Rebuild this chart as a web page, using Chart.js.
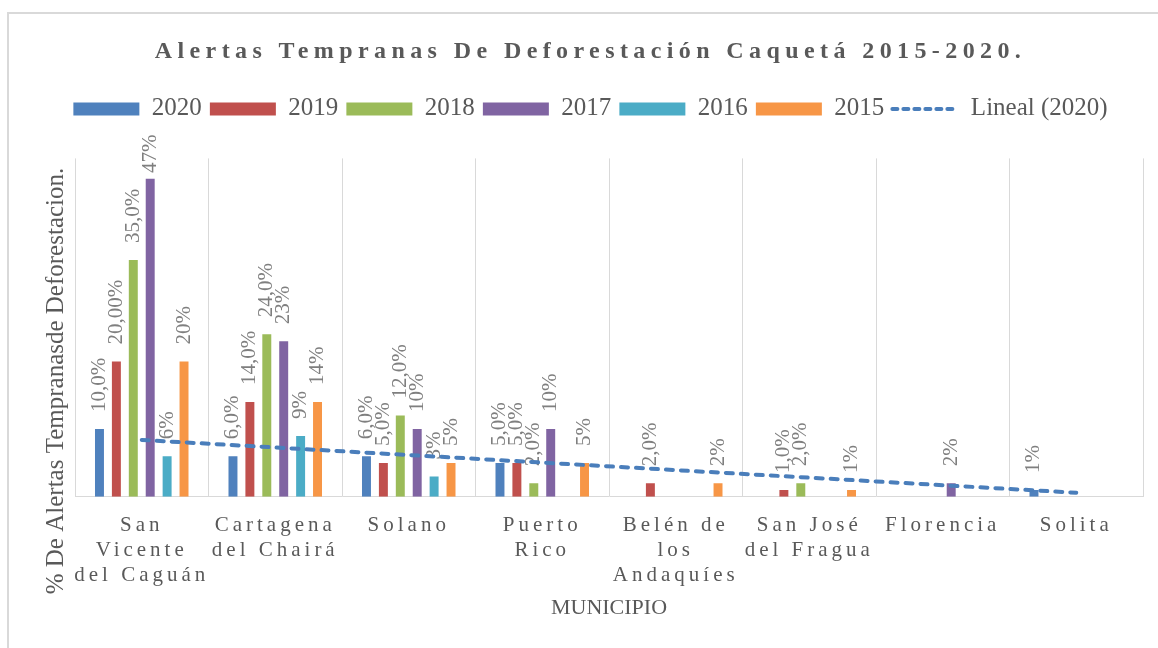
<!DOCTYPE html>
<html>
<head>
<meta charset="utf-8">
<script src="https://cdn.jsdelivr.net/npm/chart.js@4.4.1/dist/chart.umd.min.js"></script>
<style>
html,body{margin:0;padding:0;background:#ffffff;}
#wrap{position:relative;width:1158px;height:648px;overflow:hidden;background:#ffffff;}
#frame{position:absolute;left:7px;top:12px;width:1200px;height:700px;border-top:2px solid #d9d9d9;border-left:2px solid #d9d9d9;}
canvas{position:absolute;left:0;top:0;}
</style>
</head>
<body>
<div id="wrap"><div id="frame"></div><canvas id="c" width="1158" height="648"></canvas></div>
<script>
// ---- data ----
const categories = [
  ["San", "Vicente", "del Caguán"],
  ["Cartagena", "del Chairá"],
  "Solano",
  ["Puerto", "Rico"],
  ["Belén de", "los", "Andaquíes"],
  ["San José", "del Fragua"],
  "Florencia",
  "Solita"
];
const seriesNames = ["2020", "2019", "2018", "2017", "2016", "2015"];
const v2020 = [10, 6, 6, 5, null, null, null, 1];
const v2019 = [20, 14, 5, 5, 2, 1, null, null];
const v2018 = [35, 24, 12, 2, null, 2, null, null];
const v2017 = [47, 23, 10, 10, null, null, 2, null];
const v2016 = [6, 9, 3, null, null, null, null, null];
const v2015 = [20, 14, 5, 5, 2, 1, null, null];
const l2020 = ["10,0%", "6,0%", "6,0%", "5,0%", null, null, null, "1%"];
const l2019 = ["20,00%", "14,0%", "5,0%", "5,0%", "2,0%", "1,0%", null, null];
const l2018 = ["35,0%", "24,0%", "12,0%", "2,0%", null, "2,0%", null, null];
const l2017 = ["47%", "23%", "10%", "10%", null, null, "2%", null];
const l2016 = ["6%", "9%", "3%", null, null, null, null, null];
const l2015 = ["20%", "14%", "5%", "5%", "2%", "1%", null, null];
// linear trendline of 2020, read at its two ends
const trend2020 = [8.4, null, null, null, null, null, null, 0.6];
const trendName = "Lineal (2020)";
const chartTitle = "Alertas Tempranas De Deforestación Caquetá 2015-2020.";
const xTitle = "MUNICIPIO";
const yTitle = "% De Alertas Tempranasde Deforestacion.";
const yMin = 0, yMax = 50;

const colors = ["#4F81BD", "#C0504D", "#9BBB59", "#8064A2", "#4BACC6", "#F79646"];
const FONT = '"Liberation Serif", "Times New Roman", serif';
const GRAY = "#595959";

// ---- small rendering helpers (letter spacing, legend gap) ----
function withSpacing(proto, method, px) {
  if (!proto || !proto[method]) return;
  const orig = proto[method];
  proto[method] = function (...args) {
    const ctx = this.ctx;
    const prev = ctx.letterSpacing;
    ctx.letterSpacing = px + "px";
    try { return orig.apply(this, args); }
    finally { ctx.letterSpacing = prev || "0px"; }
  };
}
withSpacing(Chart.CategoryScale.prototype, "drawLabels", 4);
withSpacing(Chart.Title && Chart.Title._element && Chart.Title._element.prototype, "draw", 5.4);

const LEGEND_GAP = 27;
const LegendEl = Chart.Legend && Chart.Legend._element;
if (LegendEl) {
  const fitOrig = LegendEl.prototype.fit;
  LegendEl.prototype.fit = function () {
    fitOrig.call(this);
    if (this.isHorizontal()) this.height += LEGEND_GAP;
  };
}

const barValues = [v2020, v2019, v2018, v2017, v2016, v2015];
const barLabels = [l2020, l2019, l2018, l2017, l2016, l2015];

const datasets = seriesNames.map((name, i) => ({
  type: "bar",
  label: name,
  data: barValues[i],
  valueLabels: barLabels[i],
  backgroundColor: colors[i],
  borderWidth: 0,
  categoryPercentage: 0.76,
  barPercentage: 0.53,
  order: 1
}));
datasets.push({
  type: "line",
  label: trendName,
  data: trend2020,
  spanGaps: true,
  borderColor: "#4A7EBB",
  backgroundColor: "rgba(0,0,0,0)",
  borderWidth: 4,
  borderDash: [7, 8],
  borderCapStyle: "round",
  pointRadius: 0,
  order: 0
});
const TREND_INDEX = datasets.length - 1;

function drawValueLabels(chart) {
  const ctx = chart.ctx;
  ctx.save();
  ctx.font = "21px " + FONT;
  ctx.fillStyle = "#7f7f7f";
  ctx.textAlign = "left";
  ctx.textBaseline = "middle";
  const minTop = chart.chartArea.top - 24;
  chart.data.datasets.forEach((ds, i) => {
    if (!ds.valueLabels) return;
    const meta = chart.getDatasetMeta(i);
    meta.data.forEach((el, j) => {
      const txt = ds.valueLabels[j];
      if (!txt || ds.data[j] == null) return;
      const w = ctx.measureText(txt).width;
      let start = el.y - 17;
      if (start - w < minTop) start = minTop + w;
      ctx.save();
      ctx.translate(el.x, start);
      ctx.rotate(-Math.PI / 2);
      ctx.fillText(txt, 0, 0);
      ctx.restore();
    });
  });
  ctx.restore();
}

const labelsPlugin = {
  id: "valueLabels",
  beforeDatasetDraw(chart, args) {
    if (args.index === TREND_INDEX) { drawValueLabels(chart); chart.$labelsDone = true; }
  },
  afterDatasetsDraw(chart) {
    if (!chart.$labelsDone) drawValueLabels(chart);
    chart.$labelsDone = false;
  }
};

const yTitlePlugin = {
  id: "yTitleText",
  afterDraw(chart) {
    const ctx = chart.ctx;
    ctx.save();
    ctx.font = "25px " + FONT;
    ctx.fillStyle = GRAY;
    ctx.textAlign = "center";
    ctx.textBaseline = "middle";
    ctx.translate(56, 381);
    ctx.rotate(-Math.PI / 2);
    ctx.fillText(yTitle, 0, 0);
    ctx.restore();
  }
};

Chart.defaults.font.family = FONT;
Chart.defaults.color = GRAY;

new Chart(document.getElementById("c"), {
  data: { labels: categories, datasets },
  options: {
    responsive: false,
    animation: false,
    events: [],
    layout: { padding: { left: 38, right: 15, top: 14, bottom: 26.8 } },
    plugins: {
      title: {
        display: true,
        text: chartTitle,
        color: GRAY,
        font: { family: FONT, size: 24, weight: "bold", lineHeight: 1.2 },
        padding: { top: 23.6, bottom: 22 }
      },
      legend: {
        display: true,
        position: "top",
        labels: {
          usePointStyle: true,
          pointStyleWidth: 66,
          boxHeight: 13,
          padding: 8,
          color: GRAY,
          font: { family: FONT, size: 25 },
          sort: (a, b) => a.datasetIndex - b.datasetIndex,
          generateLabels(chart) {
            const items = Chart.defaults.plugins.legend.labels.generateLabels(chart);
            items.forEach(it => {
              const ds = chart.data.datasets[it.datasetIndex];
              if (ds.type === "line") {
                it.pointStyle = "line";
                it.lineWidth = 4;
                it.lineDash = [5, 6];
                it.lineCap = "round";
                it.strokeStyle = ds.borderColor;
                it.fillStyle = "rgba(0,0,0,0)";
              } else {
                it.pointStyle = "rect";
                it.lineWidth = 0;
                it.fillStyle = ds.backgroundColor;
              }
            });
            return items;
          }
        }
      },
      tooltip: { enabled: false }
    },
    scales: {
      x: {
        type: "category",
        offset: true,
        grid: { offset: true, drawTicks: false, color: "#d9d9d9", lineWidth: 1 },
        border: { display: true, color: "#d9d9d9", width: 1 },
        ticks: {
          autoSkip: false, maxRotation: 0, minRotation: 0, padding: 16,
          color: GRAY,
          font: { family: FONT, size: 21, lineHeight: "25px" }
        },
        title: {
          display: true, text: xTitle, color: GRAY,
          font: { family: FONT, size: 22, lineHeight: 1.2 },
          padding: { top: -9, bottom: 0 }
        }
      },
      y: {
        type: "linear",
        min: yMin, max: yMax,
        ticks: { display: false },
        grid: { display: false },
        border: { display: false },
        afterFit(scale) { scale.width = 37; }
      }
    }
  },
  plugins: [labelsPlugin, yTitlePlugin]
});
</script>
</body>
</html>
